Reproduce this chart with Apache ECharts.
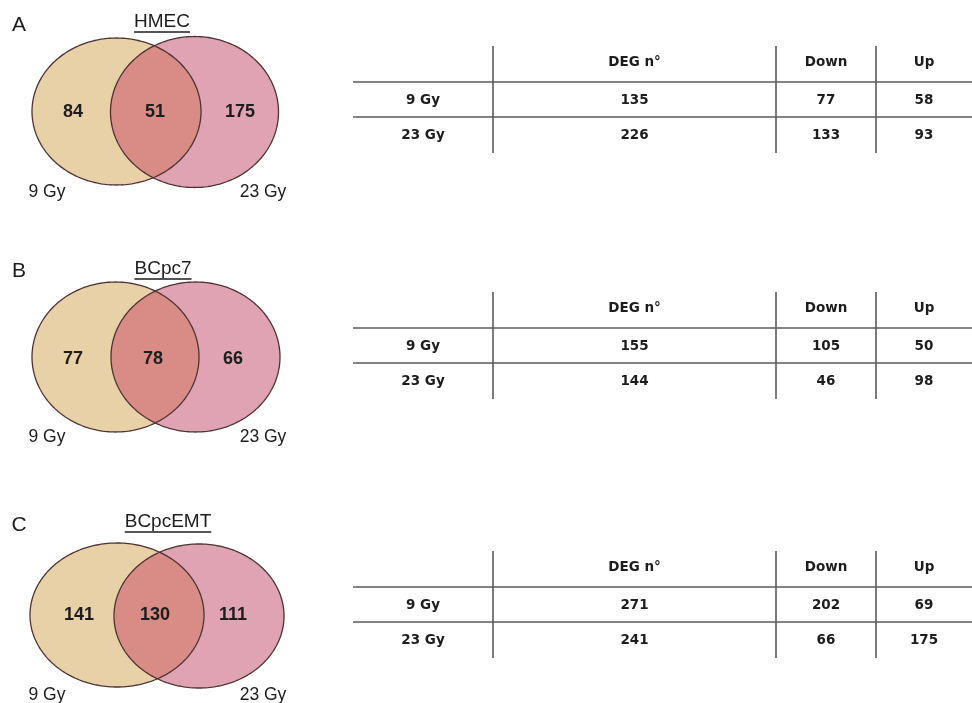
<!DOCTYPE html>
<html>
<head>
<meta charset="utf-8">
<script src="https://cdn.jsdelivr.net/npm/echarts@6/dist/echarts.min.js"></script>
<style>
  html, body { margin: 0; padding: 0; background: #ffffff; }
  #chart { width: 972px; height: 703px; }
</style>
</head>
<body>
<div id="chart"></div>
<script>
// ---- data ----
const panelLetters = ['A', 'B', 'C'];
const cellLines = ['HMEC', 'BCpc7', 'BCpcEMT'];
const doseLabels = ['9 Gy', '23 Gy'];

// Venn counts: genes only at 9 Gy, shared, only at 23 Gy
const only9Gy = [84, 77, 141];
const shared = [51, 78, 130];
const only23Gy = [175, 66, 111];

// Table columns and values (rows: 9 Gy, 23 Gy)
const tableColumns = ['DEG n\u00b0', 'Down', 'Up'];
const degTotal9 = [135, 155, 271];
const down9 = [77, 105, 202];
const up9 = [58, 50, 69];
const degTotal23 = [226, 144, 241];
const down23 = [133, 46, 66];
const up23 = [93, 98, 175];

// ---- layout (canvas units on a 972 x 703 value grid) ----
const venn = [
  { L: [116.5, 111.5, 84.5, 73.5], R: [194.5, 112, 84, 75.5], numY: 112, numX: [73, 155, 240], titleX: 162, titleY: 22, letterY: 25, doseY: 192 },
  { L: [115.5, 357, 83.5, 75], R: [195.5, 357, 84.5, 75], numY: 359, numX: [73, 153, 233], titleX: 163, titleY: 269, letterY: 271, doseY: 437 },
  { L: [117, 615, 87, 72], R: [199, 616, 85, 72], numY: 615, numX: [79, 155, 233], titleX: 168, titleY: 522, letterY: 525, doseY: 695 }
];
const tableTop = [46, 292, 551];
const colEdges = [353, 493, 776, 876, 972];

const COLORS = { tan: '#e8d0a7', pink: '#dfa3b3', lens: '#d98b85', edge: '#4d3434', grid: '#5a5a5a', text: '#1d1d1d' };
const SANS = '"Liberation Sans", Arial, sans-serif';
const TABLE_FONT = 'bold 13.5px "DejaVu Sans", sans-serif';

function ellipsePts(api, e, n) {
  const pts = [];
  for (let k = 0; k < n; k++) {
    const t = 2 * Math.PI * k / n;
    pts.push(api.coord([e[0] + e[2] * Math.cos(t), e[1] + e[3] * Math.sin(t)]));
  }
  return pts;
}
function inside(e, x, y) {
  const dx = (x - e[0]) / e[2], dy = (y - e[1]) / e[3];
  return dx * dx + dy * dy <= 1;
}
// overlap region of two ellipses as a polygon
function lensPts(api, L, R, n) {
  const a = [], b = [];
  for (let k = 0; k < n; k++) {
    const t = Math.PI / 2 + Math.PI * k / (n - 1); // right ellipse: bottom -> left -> top
    const x = R[0] + R[2] * Math.cos(t), y = R[1] + R[3] * Math.sin(t);
    if (inside(L, x, y)) a.push(api.coord([x, y]));
  }
  for (let k = 0; k < n; k++) {
    const t = -Math.PI / 2 + Math.PI * k / (n - 1); // left ellipse: top -> right -> bottom
    const x = L[0] + L[2] * Math.cos(t), y = L[1] + L[3] * Math.sin(t);
    if (inside(R, x, y)) b.push(api.coord([x, y]));
  }
  return a.concat(b);
}
const measureCtx = document.createElement('canvas').getContext('2d');
function textWidth(str, font) { measureCtx.font = font; return measureCtx.measureText(str).width; }

function txt(api, x, y, text, font, align) {
  const p = api.coord([x, y]);
  return { type: 'text', x: p[0], y: p[1], style: { text: text, font: font, fill: COLORS.text, align: align || 'center', verticalAlign: 'middle' } };
}
function seg(api, x1, y1, x2, y2) {
  const a = api.coord([x1, y1]), b = api.coord([x2, y2]);
  return { type: 'line', shape: { x1: a[0], y1: a[1], x2: b[0], y2: b[1] }, style: { stroke: COLORS.grid, lineWidth: 1.6 } };
}

function renderVenn(params, api) {
  const i = api.value(0);
  const g = venn[i];
  const kids = [];
  kids.push({ type: 'polygon', shape: { points: ellipsePts(api, g.L, 240) }, style: { fill: COLORS.tan } });
  kids.push({ type: 'polygon', shape: { points: ellipsePts(api, g.R, 240) }, style: { fill: COLORS.pink } });
  kids.push({ type: 'polygon', shape: { points: lensPts(api, g.L, g.R, 240) }, style: { fill: COLORS.lens } });
  kids.push({ type: 'polygon', shape: { points: ellipsePts(api, g.L, 240) }, style: { fill: null, stroke: COLORS.edge, lineWidth: 1.3 } });
  kids.push({ type: 'polygon', shape: { points: ellipsePts(api, g.R, 240) }, style: { fill: null, stroke: COLORS.edge, lineWidth: 1.3 } });

  const numFont = 'bold 18px ' + SANS;
  kids.push(txt(api, g.numX[0], g.numY, String(api.value(1)), numFont));
  kids.push(txt(api, g.numX[1], g.numY, String(api.value(2)), numFont));
  kids.push(txt(api, g.numX[2], g.numY, String(api.value(3)), numFont));

  const doseFont = '17.5px ' + SANS;
  kids.push(txt(api, 47, g.doseY, doseLabels[0], doseFont));
  kids.push(txt(api, 263, g.doseY, doseLabels[1], doseFont));

  kids.push(txt(api, 19, g.letterY, panelLetters[i], '21px ' + SANS));

  const titleFont = '19px ' + SANS;
  kids.push(txt(api, g.titleX, g.titleY, cellLines[i], titleFont));
  const w = textWidth(cellLines[i], titleFont);
  const u1 = api.coord([g.titleX - w / 2, g.titleY + 10]), u2 = api.coord([g.titleX + w / 2, g.titleY + 10]);
  kids.push({ type: 'line', shape: { x1: u1[0], y1: u1[1], x2: u2[0], y2: u2[1] }, style: { stroke: COLORS.text, lineWidth: 1.4 } });
  return { type: 'group', children: kids };
}

function renderTable(params, api) {
  const i = api.value(0);
  const top = tableTop[i];
  const kids = [];
  const h1 = top + 36, h2 = top + 71, bottom = top + 107;
  kids.push(seg(api, colEdges[0], h1, colEdges[4], h1));
  kids.push(seg(api, colEdges[0], h2, colEdges[4], h2));
  for (let c = 1; c <= 3; c++) kids.push(seg(api, colEdges[c], top, colEdges[c], bottom));
  const cx = [0, 1, 2, 3].map(c => (colEdges[c] + colEdges[c + 1]) / 2);
  const headY = top + 16, r1 = top + 54, r2 = top + 89;
  for (let c = 0; c < 3; c++) kids.push(txt(api, cx[c + 1], headY, tableColumns[c], TABLE_FONT));
  kids.push(txt(api, cx[0], r1, doseLabels[0], TABLE_FONT));
  kids.push(txt(api, cx[0], r2, doseLabels[1], TABLE_FONT));
  for (let c = 0; c < 3; c++) {
    kids.push(txt(api, cx[c + 1], r1, String(api.value(1 + c)), TABLE_FONT));
    kids.push(txt(api, cx[c + 1], r2, String(api.value(4 + c)), TABLE_FONT));
  }
  return { type: 'group', children: kids };
}

const vennData = cellLines.map((_, i) => [i, only9Gy[i], shared[i], only23Gy[i]]);
const tableData = cellLines.map((_, i) => [i, degTotal9[i], down9[i], up9[i], degTotal23[i], down23[i], up23[i]]);

const chart = echarts.init(document.getElementById('chart'), null, { renderer: 'canvas' });
chart.setOption({
  backgroundColor: '#ffffff',
  animation: false,
  grid: { left: 0, right: 0, top: 0, bottom: 0 },
  xAxis: { type: 'value', min: 0, max: 972, show: false },
  yAxis: { type: 'value', min: 0, max: 703, inverse: true, show: false },
  series: [
    { type: 'custom', name: 'venn', renderItem: renderVenn, data: vennData, clip: false, encode: { x: -1, y: -1 } },
    { type: 'custom', name: 'table', renderItem: renderTable, data: tableData, clip: false, encode: { x: -1, y: -1 } }
  ]
});
</script>
</body>
</html>
